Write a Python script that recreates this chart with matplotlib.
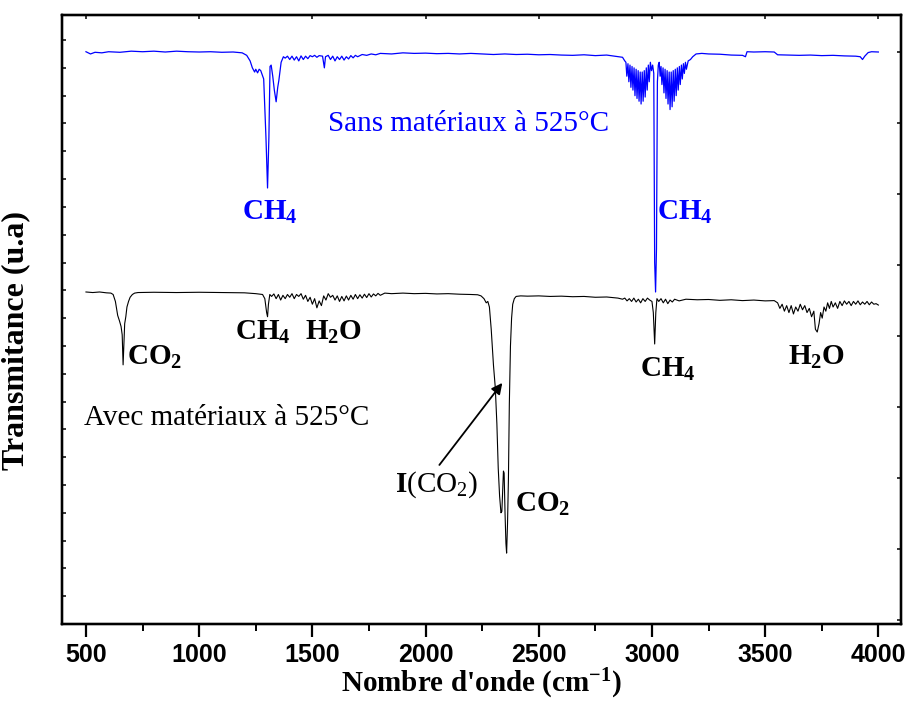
import numpy as np
import matplotlib.pyplot as plt
from matplotlib.ticker import MultipleLocator, FixedLocator

plt.rcParams['mathtext.fontset'] = 'custom'
plt.rcParams['mathtext.rm'] = 'Liberation Serif'
plt.rcParams['mathtext.bf'] = 'Liberation Serif:bold'
plt.rcParams['mathtext.it'] = 'Liberation Serif:italic'

# spectrum without material (blue), wavenumber (cm-1) / transmittance (u.a)
sans_wn = [500, 520, 540, 570, 600, 650, 700, 750, 800, 850, 900, 950, 1000, 1050,
           1100, 1150, 1190, 1210, 1225, 1235, 1245, 1250, 1258, 1265, 1272, 1285,
           1295, 1302, 1308, 1313, 1318, 1325, 1332, 1340, 1347, 1352, 1362, 1372,
           1380, 1390, 1400, 1410, 1420, 1430, 1440, 1450, 1460, 1470, 1480, 1490,
           1500, 1510, 1520, 1530, 1545, 1553, 1558, 1570, 1580, 1590, 1600, 1610,
           1620, 1630, 1640, 1650, 1660, 1670, 1680, 1690, 1700, 1720, 1740, 1760,
           1780, 1800, 1850, 1900, 1950, 2000, 2050, 2100, 2150, 2200, 2250, 2300,
           2350, 2400, 2450, 2500, 2550, 2600, 2650, 2700, 2750, 2800, 2850, 2870,
           2880, 2885, 2889, 2894, 2898, 2903, 2907, 2912, 2916, 2921, 2925, 2930,
           2934, 2939, 2943, 2948, 2952, 2957, 2961, 2966, 2970, 2975, 2979, 2984,
           2988, 2993, 2998, 3003, 3008, 3012, 3016, 3020, 3024, 3028, 3032, 3036,
           3040, 3044, 3049, 3053, 3058, 3062, 3067, 3071, 3076, 3080, 3085, 3089,
           3094, 3098, 3103, 3107, 3112, 3116, 3121, 3125, 3130, 3134, 3139, 3143,
           3148, 3152, 3160, 3170, 3180, 3195, 3220, 3250, 3300, 3350, 3400, 3413,
           3420, 3450, 3500, 3540, 3555, 3600, 3650, 3700, 3750, 3800, 3850, 3900,
           3920, 3930, 3940, 3955, 3970, 4000]
sans_t = [20.58, 20.50, 20.56, 20.54, 20.58, 20.56, 20.60, 20.58, 20.60, 20.57, 20.60,
          20.58, 20.57, 20.58, 20.56, 20.57, 20.54, 20.45, 20.25, 20.00, 19.85, 19.95,
          19.82, 19.95, 19.90, 19.60, 17.50, 15.68, 17.50, 20.05, 20.10, 19.70, 19.20,
          18.78, 19.30, 19.55, 20.20, 20.40, 20.35, 20.42, 20.30, 20.42, 20.28, 20.40,
          20.25, 20.43, 20.30, 20.42, 20.33, 20.44, 20.40, 20.45, 20.38, 20.44, 20.42,
          20.00, 20.40, 20.45, 20.30, 20.42, 20.25, 20.40, 20.30, 20.42, 20.28, 20.40,
          20.32, 20.44, 20.36, 20.45, 20.40, 20.48, 20.45, 20.50, 20.47, 20.52, 20.50,
          20.54, 20.52, 20.53, 20.51, 20.52, 20.50, 20.52, 20.50, 20.48, 20.50, 20.48,
          20.49, 20.47, 20.48, 20.46, 20.45, 20.47, 20.44, 20.46, 20.40, 20.38, 20.25,
          20.20, 19.70, 20.15, 19.50, 20.10, 19.30, 20.05, 19.20, 20.00, 19.00, 19.95,
          18.90, 19.90, 18.80, 19.85, 18.70, 19.85, 18.80, 19.90, 18.95, 20.00, 19.20,
          20.10, 19.50, 20.20, 19.90, 20.10, 19.80, 13.00, 11.94, 13.50, 19.50, 20.10,
          20.20, 19.70, 20.05, 19.40, 20.00, 19.10, 19.95, 18.90, 19.90, 18.70, 19.85,
          18.50, 19.85, 18.60, 19.90, 18.80, 19.95, 19.00, 20.00, 19.20, 20.05, 19.40,
          20.10, 19.60, 20.15, 19.80, 20.20, 19.95, 20.25, 20.30, 20.40, 20.50, 20.52,
          20.50, 20.49, 20.46, 20.45, 20.40, 20.58, 20.57, 20.58, 20.57, 20.47, 20.46,
          20.45, 20.46, 20.44, 20.45, 20.43, 20.42, 20.40, 20.30, 20.42, 20.55, 20.58,
          20.57]

# spectrum with material (black)
avec_wn = [500, 530, 560, 590, 610, 620, 630, 640, 648, 655, 660, 664, 667, 671, 676,
           681, 688, 695, 705, 715, 730, 800, 900, 1000, 1100, 1200, 1250, 1280, 1290,
           1298, 1302, 1306, 1312, 1320, 1330, 1340, 1350, 1360, 1370, 1380, 1390,
           1400, 1410, 1420, 1430, 1440, 1450, 1460, 1470, 1480, 1490, 1500, 1510,
           1520, 1530, 1540, 1550, 1560, 1570, 1580, 1590, 1600, 1610, 1620, 1630,
           1640, 1650, 1660, 1670, 1680, 1690, 1700, 1710, 1720, 1730, 1740, 1750,
           1760, 1770, 1780, 1790, 1800, 1820, 1850, 1900, 1950, 2000, 2050, 2100,
           2150, 2200, 2230, 2245, 2258, 2268, 2275, 2282, 2290, 2300, 2308, 2315,
           2321, 2327, 2333, 2337, 2340, 2344, 2347, 2351, 2355, 2358, 2362, 2366,
           2370, 2375, 2380, 2385, 2392, 2400, 2420, 2450, 2500, 2550, 2600, 2650,
           2700, 2750, 2800, 2850, 2870, 2880, 2890, 2900, 2910, 2920, 2930, 2940,
           2950, 2960, 2970, 2980, 2990, 3000, 3006, 3012, 3017, 3022, 3030, 3040,
           3050, 3060, 3070, 3080, 3090, 3100, 3120, 3150, 3200, 3250, 3300, 3350,
           3400, 3450, 3500, 3540, 3555, 3565, 3575, 3585, 3595, 3605, 3615, 3625,
           3635, 3645, 3655, 3665, 3675, 3685, 3695, 3705, 3715, 3722, 3730, 3738,
           3745, 3752, 3760, 3768, 3776, 3784, 3792, 3800, 3810, 3820, 3830, 3840,
           3850, 3860, 3870, 3880, 3890, 3900, 3910, 3920, 3930, 3940, 3950, 3960,
           3970, 3980, 3990, 4000]
avec_t = [11.94, 11.92, 11.94, 11.91, 11.90, 11.85, 11.60, 11.10, 10.90, 10.70, 10.40,
          9.32, 10.00, 10.80, 11.05, 11.40, 11.60, 11.75, 11.85, 11.90, 11.92, 11.93,
          11.92, 11.93, 11.92, 11.91, 11.88, 11.85, 11.70, 11.20, 11.05, 11.50, 11.85,
          11.78, 11.87, 11.70, 11.85, 11.65, 11.82, 11.70, 11.85, 11.75, 11.88, 11.70,
          11.85, 11.78, 11.88, 11.68, 11.82, 11.60, 11.75, 11.50, 11.70, 11.37, 11.62,
          11.45, 11.80, 11.65, 11.88, 11.75, 11.82, 11.65, 11.80, 11.60, 11.78, 11.62,
          11.80, 11.65, 11.82, 11.68, 11.85, 11.70, 11.84, 11.72, 11.86, 11.74, 11.88,
          11.76, 11.87, 11.80, 11.89, 11.82, 11.90, 11.88, 11.90, 11.88, 11.89, 11.87,
          11.88, 11.86, 11.85, 11.84, 11.80, 11.70, 11.55, 11.60, 11.40, 10.60, 9.30,
          8.50, 7.20, 5.60, 4.60, 4.00, 4.05, 4.70, 5.50, 5.43, 4.00, 2.90, 2.55, 3.60,
          5.20, 7.90, 10.00, 11.00, 11.50, 11.70, 11.78, 11.80, 11.79, 11.80, 11.78,
          11.79, 11.77, 11.78, 11.75, 11.76, 11.72, 11.68, 11.72, 11.62, 11.70, 11.60,
          11.72, 11.58, 11.68, 11.55, 11.70, 11.60, 11.72, 11.65, 11.60, 11.20, 10.07,
          11.20, 11.70, 11.60, 11.70, 11.55, 11.68, 11.52, 11.65, 11.58, 11.68, 11.62,
          11.68, 11.66, 11.67, 11.64, 11.66, 11.63, 11.65, 11.62, 11.63, 11.55, 11.35,
          11.50, 11.25, 11.45, 11.20, 11.45, 11.15, 11.40, 11.25, 11.50, 11.30, 11.45,
          11.20, 11.35, 11.05, 11.25, 10.60, 10.50, 10.80, 11.20, 11.00, 11.40, 11.25,
          11.55, 11.35, 11.60, 11.40, 11.55, 11.35, 11.60, 11.45, 11.62, 11.50, 11.60,
          11.45, 11.60, 11.50, 11.62, 11.48, 11.58, 11.50, 11.60, 11.48, 11.58, 11.50,
          11.52, 11.47]

x_ticks = [500, 1000, 1500, 2000, 2500, 3000, 3500, 4000]

serif = 'Liberation Serif'
blue = '#0000ff'

fig = plt.figure(figsize=(9.1, 7.02), dpi=100)
ax = fig.add_axes([0.0681, 0.1111, 0.922, 0.8675])

ax.plot(sans_wn, sans_t, color=blue, lw=0.9)
ax.plot(avec_wn, avec_t, color='black', lw=0.8)

ax.set_xlim(394, 4100)
ax.set_ylim(0, 21.9)

# labels on the curves
lab = dict(fontsize=21, family=serif, va='baseline')
ax.text(1313, 14.53, r'$\mathbf{CH_4}$', color=blue, ha='center', **lab)
ax.text(3024, 14.53, r'$\mathbf{CH_4}$', color=blue, ha='left', **lab)
ax.text(1570, 17.73, 'Sans matériaux à 525°C', color=blue, ha='left', **lab)
ax.text(681, 9.32, r'$\mathbf{CO_2}$', ha='left', **lab)
ax.text(1159, 10.22, r'$\mathbf{CH_4}$', ha='left', **lab)
ax.text(1468, 10.22, r'$\mathbf{H_2O}$', ha='left', **lab)
ax.text(491, 7.15, 'Avec matériaux à 525°C', ha='left', **lab)
ax.text(1866, 4.75, r'$\mathbf{I}\mathrm{(CO_2)}$', ha='left', **lab)
ax.text(2397, 4.03, r'$\mathbf{CO_2}$', ha='left', **lab)
ax.text(2949, 8.88, r'$\mathbf{CH_4}$', ha='left', **lab)
ax.text(3603, 9.32, r'$\mathbf{H_2O}$', ha='left', **lab)

ax.annotate('', xy=(2339, 8.67), xytext=(2061, 5.72),
            arrowprops=dict(arrowstyle='-|>', color='black', lw=1.3,
                            mutation_scale=16, shrinkA=0, shrinkB=0))

# axes styling
for s in ax.spines.values():
    s.set_linewidth(1.6)

ax.set_xticks(x_ticks)
ax.xaxis.set_minor_locator(MultipleLocator(250))
ax.tick_params(axis='x', which='major', direction='out', length=9.5, width=1.6,
               pad=4, top=False)
ax.tick_params(axis='x', which='minor', direction='out', length=5, width=1.4, top=False)
for lbl in ax.get_xticklabels():
    lbl.set_family('Liberation Sans')
    lbl.set_fontweight('bold')
    lbl.set_fontsize(18)

ax.yaxis.set_major_locator(MultipleLocator(1))
ax.tick_params(axis='y', which='major', direction='in', length=3, width=1.1,
               labelleft=False, right=False)

# top and right ticks, pointing inward
axt = ax.twiny()
axt.set_xlim(ax.get_xlim())
axt.set_xticks(x_ticks)
axt.tick_params(axis='x', direction='in', length=3, width=1.1, labeltop=False)

axr = ax.twinx()
axr.set_ylim(ax.get_ylim())
axr.yaxis.set_major_locator(FixedLocator(np.arange(20.58, 0, -2.554)))
axr.tick_params(axis='y', direction='in', length=3, width=1.1, labelright=False)
for a in (axt, axr):
    for s in a.spines.values():
        s.set_linewidth(1.6)

ax.set_ylabel('Transmitance (u.a)', family=serif, fontweight='bold', fontsize=23)
ax.yaxis.set_label_coords(-0.038, 0.465)
ax.set_xlabel(r"Nombre d'onde (cm$^{\mathbf{-1}}$)", family=serif,
              fontweight='bold', fontsize=21, va='bottom')
ax.xaxis.set_label_coords(0.5, -0.126)

fig.savefig('out.png', dpi=100)
